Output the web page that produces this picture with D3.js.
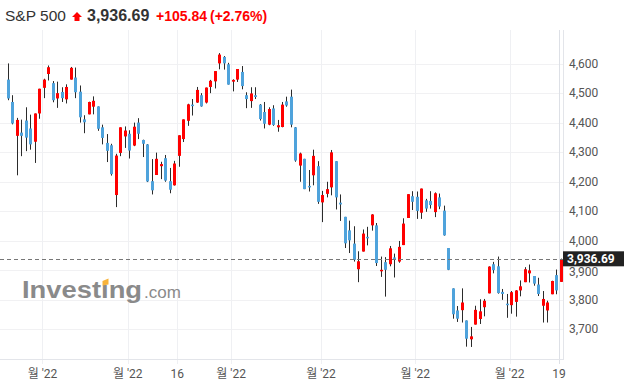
<!DOCTYPE html>
<html>
<head>
<meta charset="utf-8">
<script src="https://cdn.jsdelivr.net/npm/d3@7"></script>
<style>
  body { margin: 0; background: #fff; }
  svg { display: block; }
</style>
</head>
<body>
<svg id="chart" width="624" height="385"></svg>
<script>
// S&P 500 daily, 2022-01-20 .. 2022-07-19
const dates = ["01-20","01-21","01-24","01-25","01-26","01-27","01-28","01-31",
  "02-01","02-02","02-03","02-04","02-07","02-08","02-09","02-10","02-11","02-14","02-15","02-16","02-17","02-18","02-22","02-23","02-24","02-25","02-28",
  "03-01","03-02","03-03","03-04","03-07","03-08","03-09","03-10","03-11","03-14","03-15","03-16","03-17","03-18","03-21","03-22","03-23","03-24","03-25","03-28","03-29","03-30","03-31",
  "04-01","04-04","04-05","04-06","04-07","04-08","04-11","04-12","04-13","04-14","04-18","04-19","04-20","04-21","04-22","04-25","04-26","04-27","04-28","04-29",
  "05-02","05-03","05-04","05-05","05-06","05-09","05-10","05-11","05-12","05-13","05-16","05-17","05-18","05-19","05-20","05-23","05-24","05-25","05-26","05-27","05-31",
  "06-01","06-02","06-03","06-06","06-07","06-08","06-09","06-10","06-13","06-14","06-15","06-16","06-17","06-21","06-22","06-23","06-24","06-27","06-28","06-29","06-30",
  "07-01","07-05","07-06","07-07","07-08","07-11","07-12","07-13","07-14","07-15","07-18","07-19"];
const open = [4547,4471,4356,4367,4408,4381,4336,4432,
  4519,4566,4535,4483,4505,4480,4547,4554,4506,4412,4429,4455,4456,4385,4332,4324,4155,4298,4354,
  4363,4323,4401,4342,4327,4202,4223,4253,4280,4202,4188,4288,4345,4407,4462,4469,4494,4469,4522,4541,4602,4624,4599,
  4540,4547,4573,4494,4474,4494,4462,4437,4394,4449,4385,4386,4473,4489,4385,4255,4278,4186,4222,4253,
  4130,4159,4181,4270,4129,4081,4035,3990,3903,3963,4013,4052,4052,3900,3927,3920,3943,3929,3985,4077,4151,
  4149,4095,4137,4135,4097,4147,4102,3975,3838,3763,3764,3729,3665,3715,3734,3774,3821,3920,3913,3826,3786,
  3781,3792,3831,3859,3889,3880,3851,3779,3763,3818,3883,3860];
const high = [4602,4494,4417,4411,4453,4428,4432,4516,
  4550,4595,4542,4540,4521,4531,4590,4588,4527,4426,4472,4490,4456,4394,4362,4329,4295,4385,4388,
  4375,4401,4416,4343,4328,4277,4299,4268,4291,4247,4271,4358,4412,4465,4481,4522,4501,4520,4546,4575,4637,4627,4604,
  4548,4583,4593,4504,4521,4521,4464,4471,4453,4460,4410,4471,4489,4513,4386,4299,4278,4240,4309,4270,
  4169,4200,4308,4270,4157,4081,4068,4049,3964,4038,4047,4090,4060,3946,3944,3982,3956,3999,4076,4158,4168,
  4167,4177,4142,4168,4164,4160,4119,3975,3838,3778,3838,3729,3707,3779,3801,3802,3913,3928,3946,3836,3819,
  3829,3832,3865,3910,3919,3880,3874,3829,3796,3864,3902,3939];
const low = [4477,4395,4222,4287,4304,4309,4264,4414,
  4484,4544,4470,4451,4471,4466,4547,4484,4401,4365,4429,4429,4373,4327,4267,4221,4114,4287,4315,
  4279,4321,4345,4284,4199,4157,4223,4209,4200,4161,4187,4251,4335,4390,4425,4468,4455,4466,4501,4517,4582,4581,4530,
  4507,4539,4514,4450,4451,4481,4408,4381,4392,4390,4370,4385,4455,4385,4268,4200,4175,4167,4188,4125,
  4063,4147,4154,4106,4067,3975,3958,3929,3859,3963,3984,4034,3914,3877,3810,3913,3875,3925,3985,4077,4104,
  4074,4074,4098,4109,4080,4107,4017,3900,3735,3724,3722,3640,3639,3715,3717,3743,3821,3889,3820,3799,3738,
  3752,3742,3811,3859,3858,3847,3812,3722,3722,3818,3818,3860];
const close = [4483,4398,4410,4356,4350,4327,4432,4516,
  4547,4589,4477,4501,4484,4522,4587,4504,4419,4402,4471,4475,4380,4349,4305,4226,4289,4385,4374,
  4306,4387,4363,4329,4201,4171,4278,4260,4204,4173,4262,4358,4412,4463,4461,4512,4456,4520,4543,4576,4632,4602,4530,
  4546,4583,4525,4481,4500,4488,4413,4397,4447,4393,4392,4462,4459,4394,4272,4296,4175,4184,4288,4132,
  4155,4175,4300,4147,4123,3991,4001,3935,3930,4024,4008,4089,3924,3901,3901,3974,3941,3979,4058,4158,4132,
  4101,4177,4109,4121,4161,4116,4018,3901,3750,3735,3790,3667,3675,3765,3760,3796,3912,3900,3822,3819,3785,
  3825,3831,3845,3903,3899,3854,3819,3802,3790,3863,3831,3937];

const yTicks = [3700, 3800, 3900, 4000, 4100, 4200, 4300, 4400, 4500, 4600];
const xTickIdx = [8, 27, 38, 50, 70, 91, 112, 123];
const xTickLabels = ["월 '22", "월 '22", "16", "월 '22", "월 '22", "월 '22", "월 '22", "19"];
const last = 3936.69;

const svg = d3.select("#chart");
const plotRight = 563, plotTop = 30, plotBottom = 359;

const x = d3.scaleLinear().domain([0, dates.length - 1]).range([8, 560.5]);
const y = d3.scaleLinear().domain([3700, 4600]).range([329, 64]);

// gridlines
svg.append("g").selectAll("line").data(yTicks).join("line")
  .attr("x1", 0).attr("x2", plotRight)
  .attr("y1", d => Math.round(y(d)) + 0.5).attr("y2", d => Math.round(y(d)) + 0.5)
  .attr("stroke", "#f1f1f3");
svg.append("g").selectAll("line").data(xTickIdx).join("line")
  .attr("x1", d => Math.round(x(d) - 1.5) + 0.5).attr("x2", d => Math.round(x(d) - 1.5) + 0.5)
  .attr("y1", plotTop).attr("y2", 364)
  .attr("stroke", d => d === 123 ? "#dde0e6" : "#eff0f3");

// frame
svg.append("line").attr("x1", plotRight + 0.5).attr("x2", plotRight + 0.5)
  .attr("y1", plotTop).attr("y2", plotBottom).attr("stroke", "#e3e5ea");
svg.append("line").attr("x1", 0).attr("x2", plotRight + 1)
  .attr("y1", plotBottom + 0.5).attr("y2", plotBottom + 0.5).attr("stroke", "#e3e5ea");

// watermark
const wm = svg.append("g");
wm.append("text").attr("transform", "translate(22,298) scale(1.19,1)")
  .attr("font-family", "Liberation Sans, Arial, sans-serif").attr("font-weight", "bold")
  .attr("font-size", 23).attr("fill", "#8a8a8a").text("Investıng");
wm.append("text").attr("x", 144).attr("y", 298)
  .attr("font-family", "Liberation Sans, Arial, sans-serif")
  .attr("font-size", 17).attr("fill", "#8a8a8a").text(".com");
wm.append("path").attr("d", "M102.5,281 L108.5,278.5 L108.5,284.5 L102.5,285.5 Z").attr("fill", "#f7b33b");

// candles
const idx = d3.range(dates.length);
const up = i => close[i] >= open[i];
const cw = 3;
svg.append("g").selectAll("line").data(idx).join("line")
  .attr("x1", i => Math.round(x(i)) + 0.5).attr("x2", i => Math.round(x(i)) + 0.5)
  .attr("y1", i => y(high[i])).attr("y2", i => y(low[i]))
  .attr("stroke", "#2b2b2b").attr("stroke-width", 1);
svg.append("g").selectAll("rect").data(idx).join("rect")
  .attr("x", i => Math.round(x(i)) - 1)
  .attr("width", cw)
  .attr("y", i => y(Math.max(open[i], close[i])))
  .attr("height", i => Math.max(1.5, Math.abs(y(open[i]) - y(close[i]))))
  .attr("fill", i => up(i) ? "#ff0000" : "#4fa3dc");

// last price dashed line
svg.append("line").attr("x1", 0).attr("x2", plotRight)
  .attr("y1", Math.round(y(last)) + 0.5).attr("y2", Math.round(y(last)) + 0.5)
  .attr("stroke", "#777").attr("stroke-width", 1).attr("stroke-dasharray", "4,3");

// y axis labels (3,900 sits under the price tag, as in the source)
svg.append("g").selectAll("text").data(yTicks.filter(d => d !== 3900)).join("text")
  .attr("x", 569).attr("y", d => y(d) + 4)
  .attr("font-family", "Roboto, sans-serif").attr("font-size", 12).attr("fill", "#555")
  .text(d => d3.format(",")(d));
svg.append("text").attr("x", 569).attr("y", y(3900) + 6)
  .attr("font-family", "Roboto, sans-serif").attr("font-size", 12).attr("fill", "#555")
  .text(d3.format(",")(3900));

// current price tag
svg.append("rect").attr("x", 563).attr("y", y(last) - 8).attr("width", 61).attr("height", 15)
  .attr("fill", "#222");
svg.append("text").attr("x", 567).attr("y", y(last) + 4)
  .attr("font-family", "Roboto, sans-serif").attr("font-weight", "bold").attr("font-size", 12)
  .attr("fill", "#fff").text(d3.format(",.2f")(last));

// x axis labels
svg.append("g").selectAll("text").data(xTickIdx).join("text")
  .attr("x", (d) => x(d) - 1.5).attr("y", 378)
  .attr("text-anchor", "middle")
  .attr("font-family", "Roboto, 'Noto Sans CJK KR', sans-serif").attr("font-size", 12).attr("fill", "#555")
  .text((d, i) => xTickLabels[i]);

// header
svg.append("text").attr("x", 5).attr("y", 21)
  .attr("font-family", "Liberation Sans, Arial, sans-serif").attr("font-size", 15.5)
  .attr("fill", "#333").text("S&P 500");
svg.append("path").attr("d", "M77,15 L82,20 L79.5,20 L79.5,24 L74.5,24 L74.5,20 L72,20 Z")
  .attr("transform", "translate(0,-3)").attr("fill", "#ff0000");
svg.append("text").attr("x", 87).attr("y", 21)
  .attr("font-family", "Liberation Sans, Arial, sans-serif").attr("font-size", 16).attr("font-weight", "bold")
  .attr("fill", "#333").text("3,936.69");
svg.append("text").attr("x", 156).attr("y", 21)
  .attr("font-family", "Liberation Sans, Arial, sans-serif").attr("font-size", 14).attr("font-weight", "bold")
  .attr("fill", "#ff0000").text("+105.84");
svg.append("text").attr("x", 210).attr("y", 21)
  .attr("font-family", "Liberation Sans, Arial, sans-serif").attr("font-size", 14).attr("font-weight", "bold")
  .attr("fill", "#ff0000").text("(+2.76%)");
</script>
</body>
</html>
